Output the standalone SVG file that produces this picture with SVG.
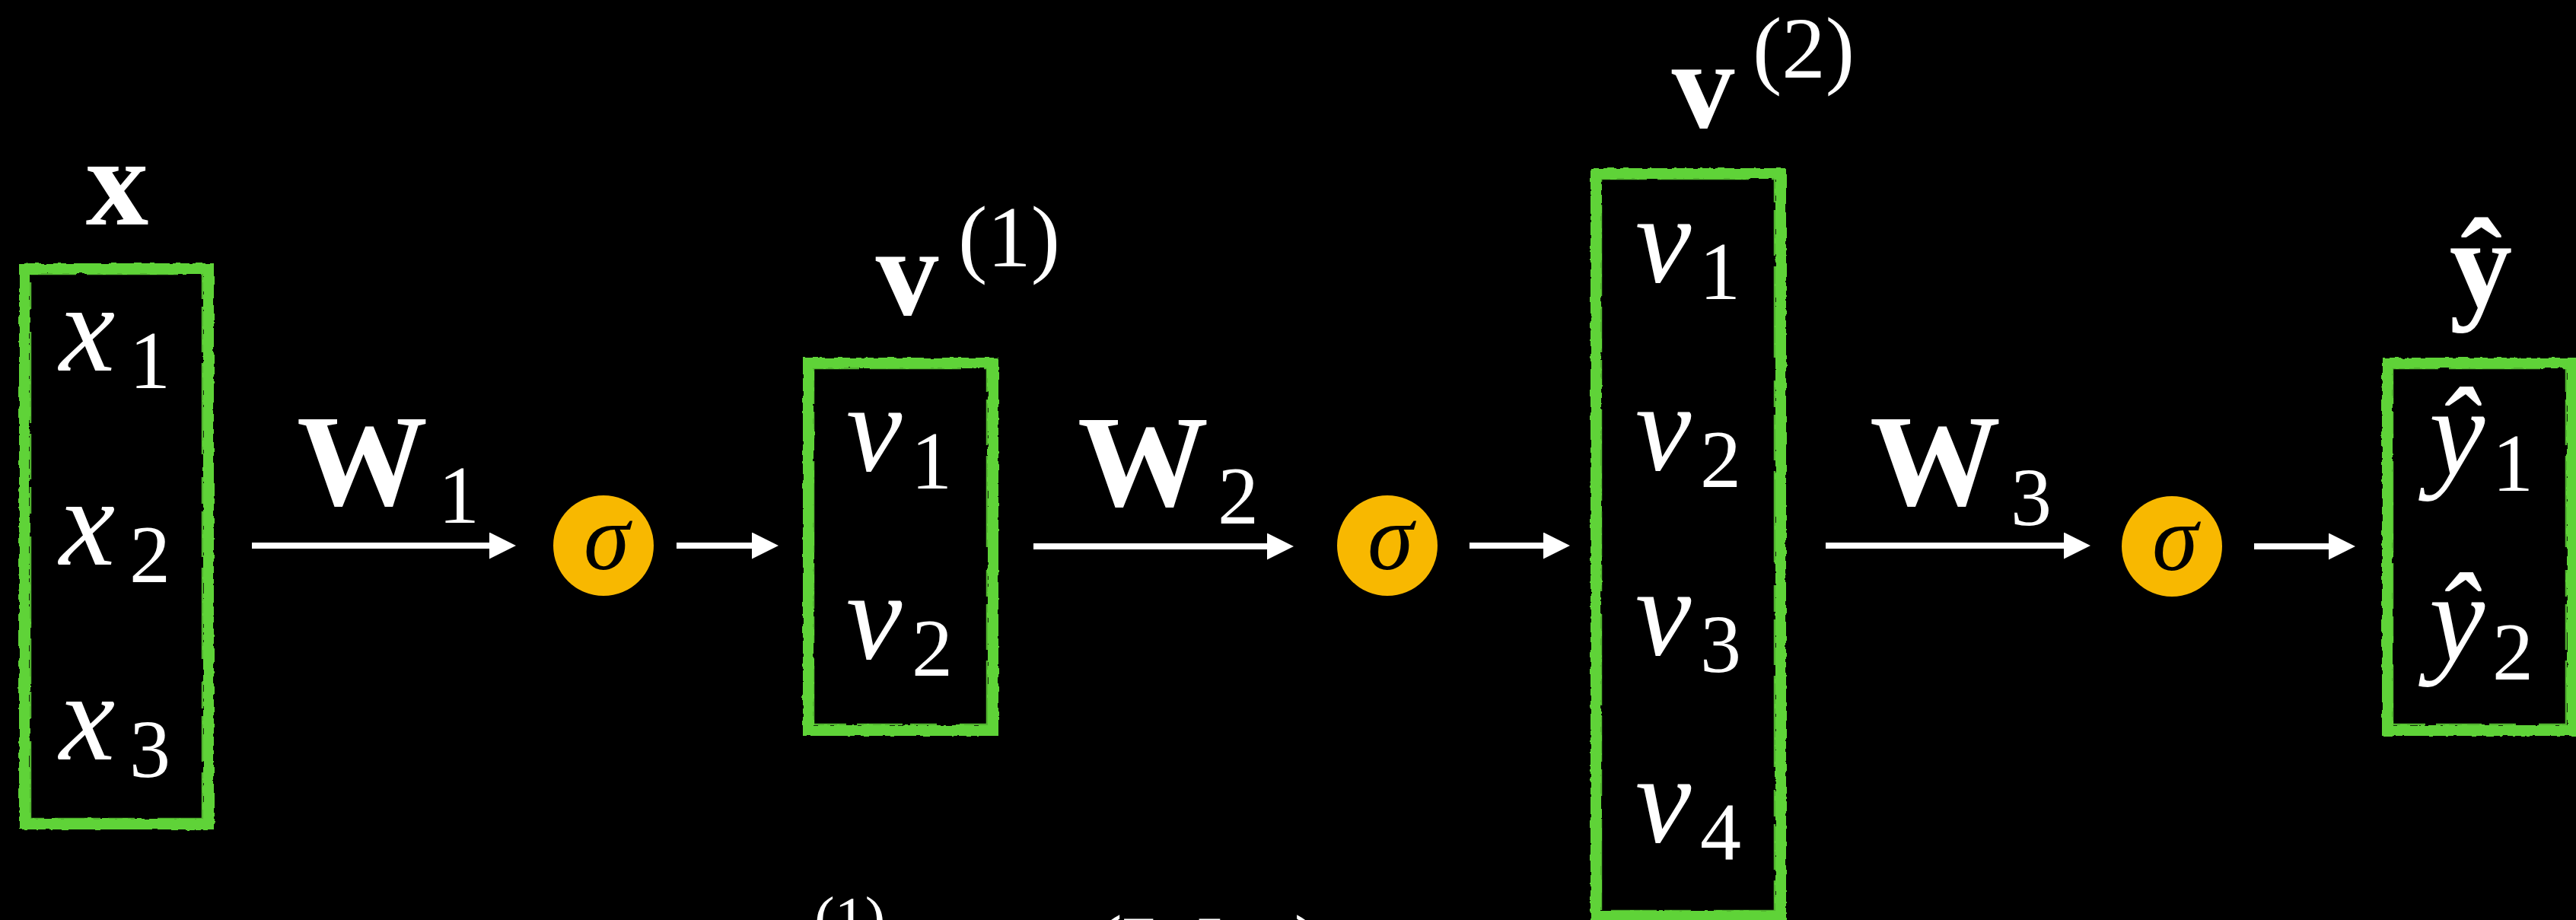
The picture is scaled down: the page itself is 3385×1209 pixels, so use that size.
<svg xmlns="http://www.w3.org/2000/svg" width="3385" height="1209" viewBox="0 0 3385 1209">
  <defs>
    <style>
      text { font-family: "Liberation Serif", "Times New Roman", serif; fill: #ffffff; }
      .it { font-style: italic; font-size: 165px; }
      .sub { font-size: 108px; text-anchor: middle; }
      .bold { font-weight: bold; font-size: 165px; text-anchor: middle; }
      .sup { font-size: 115px; text-anchor: middle; }
      .wlab { font-weight: bold; font-size: 172px; text-anchor: middle; }
      .box { fill: none; stroke: #5fd337; stroke-width: 14; filter: url(#rough); }
      .fray { fill: none; stroke: #5fd337; stroke-width: 2.5; stroke-dasharray: 60 14 120 30 35 10; opacity: 0.85; }
      .sig { fill: #f8b800; }
      .sigt { font-style: italic; font-size: 122px; fill: #000000; text-anchor: middle; }
      .arrow { stroke: #ffffff; stroke-width: 8; fill: none; marker-end: url(#head); }
    </style>
    <filter id="rough" x="-5%" y="-5%" width="110%" height="110%">
      <feTurbulence type="fractalNoise" baseFrequency="0.09" numOctaves="2" seed="4" result="n"/>
      <feDisplacementMap in="SourceGraphic" in2="n" scale="5" xChannelSelector="R" yChannelSelector="G"/>
    </filter>
    <marker id="head" markerUnits="userSpaceOnUse" markerWidth="36" markerHeight="36" refX="5" refY="17.5" orient="auto">
      <path d="M0,0 L35,17.5 L0,35 Z" fill="#ffffff"/>
    </marker>
  </defs>

  <rect x="0" y="0" width="3385" height="1209" fill="#000000"/>

  <!-- Input vector x -->
  <g id="node-x">
    <text class="bold" x="154" y="295" font-size="160">x</text>
    <rect class="box" x="32" y="353" width="242" height="730"/>
    <rect class="fray" x="40" y="360" width="226" height="716"/>
    <text class="it" x="78" y="487">x</text><text class="sub" x="197" y="510">1</text>
    <text class="it" x="78" y="742">x</text><text class="sub" x="197" y="765">2</text>
    <text class="it" x="78" y="998">x</text><text class="sub" x="197" y="1021">3</text>
  </g>

  <!-- Sigma nodes -->
  <g id="node-sigma1">
    <circle class="sig" cx="793" cy="717" r="66"/>
    <text class="sigt" x="797" y="748">σ</text>
  </g>
  <g id="node-sigma2">
    <circle class="sig" cx="1823" cy="717" r="66"/>
    <text class="sigt" x="1827" y="748">σ</text>
  </g>
  <g id="node-sigma3">
    <circle class="sig" cx="2854" cy="718" r="66"/>
    <text class="sigt" x="2858" y="749">σ</text>
  </g>

  <!-- Hidden layer v(1) -->
  <g id="node-v1">
    <text class="bold" x="1192" y="413">v</text>
    <text class="sup" x="1326" y="350">(1)</text>
    <rect class="box" x="1062" y="477" width="243" height="483"/>
    <rect class="fray" x="1069" y="484" width="228" height="468"/>
    <text class="it" x="1112" y="618">v</text><text class="sub" x="1224" y="642">1</text>
    <text class="it" x="1112" y="865">v</text><text class="sub" x="1225" y="888">2</text>
  </g>

  <!-- Hidden layer v(2) -->
  <g id="node-v2">
    <text class="bold" x="2238" y="167">v</text>
    <text class="sup" x="2370" y="102">(2)</text>
    <rect class="box" x="2097" y="228" width="243" height="976"/>
    <rect class="fray" x="2104" y="235" width="228" height="962"/>
    <text class="it" x="2149" y="370">v</text><text class="sub" x="2260" y="393">1</text>
    <text class="it" x="2149" y="617">v</text><text class="sub" x="2261" y="640">2</text>
    <text class="it" x="2149" y="860">v</text><text class="sub" x="2261" y="883">3</text>
    <text class="it" x="2149" y="1106">v</text><text class="sub" x="2261" y="1130">4</text>
  </g>

  <!-- Output y-hat -->
  <g id="node-yhat">
    <text class="bold" x="3260" y="403" font-size="160">ŷ</text>
    <rect class="box" x="3137" y="477" width="243" height="483"/>
    <rect class="fray" x="3144" y="484" width="228" height="468"/>
    <text class="it" x="3192" y="624">ŷ</text><text class="sub" x="3302" y="645">1</text>
    <text class="it" x="3192" y="868">ŷ</text><text class="sub" x="3302" y="893">2</text>
  </g>

  <!-- Connectors -->
  <g id="connectors">
    <line class="arrow" x1="331" y1="717" x2="648" y2="717"/>
    <text class="wlab" x="476" y="663">W</text><text class="sub" x="603" y="687">1</text>
    <line class="arrow" x1="889" y1="717" x2="993" y2="717"/>
    <line class="arrow" x1="1358" y1="718" x2="1670" y2="718"/>
    <text class="wlab" x="1502" y="664">W</text><text class="sub" x="1627" y="688">2</text>
    <line class="arrow" x1="1931" y1="717" x2="2033" y2="717"/>
    <line class="arrow" x1="2399" y1="717" x2="2717" y2="717"/>
    <text class="wlab" x="2543" y="663">W</text><text class="sub" x="2669" y="690">3</text>
    <line class="arrow" x1="2962" y1="718" x2="3065" y2="718"/>
  </g>

  <!-- Formula cut off at the bottom edge (only its top shows) -->
  <g id="formula">
    <text font-size="80" x="1070" y="1234">(1)</text>
    <text font-size="130" x="1432" y="1292">(<tspan font-weight="bold">W</tspan></text>
    <text font-size="130" x="1700" y="1292">)</text>
  </g>
</svg>
